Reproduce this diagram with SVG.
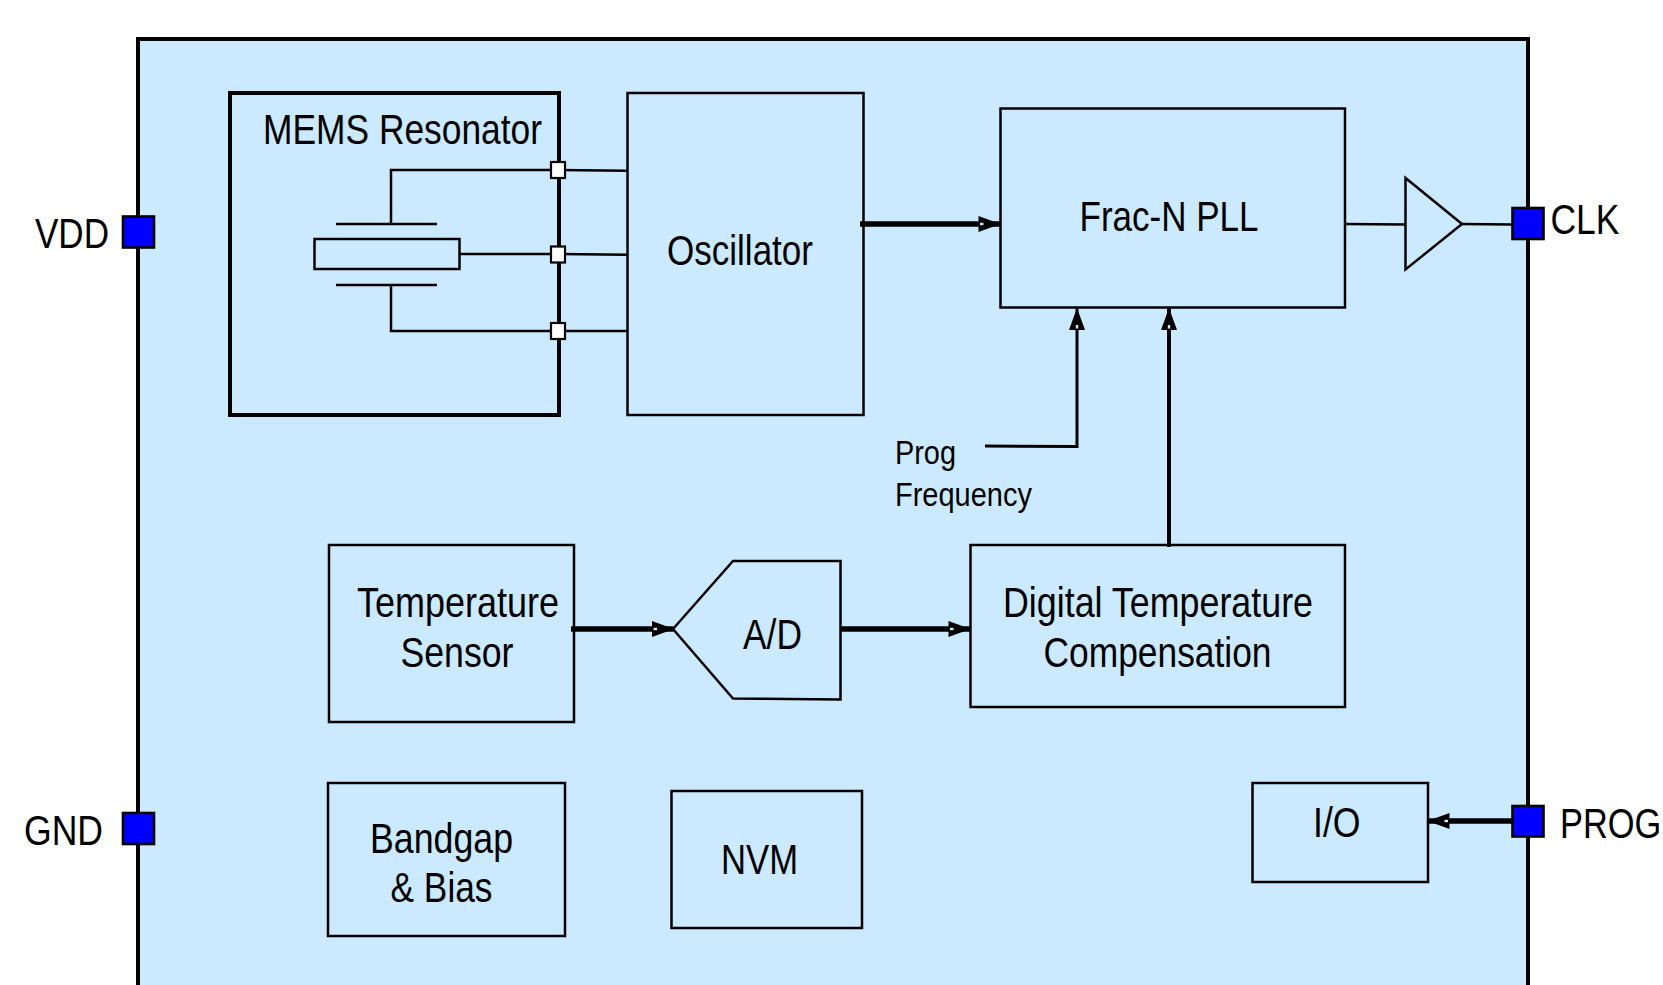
<svg xmlns="http://www.w3.org/2000/svg" width="1663" height="985" viewBox="0 0 1663 985">
<style>
.box{fill:#cbeaff;stroke:#000;stroke-width:2.5}
.w{fill:none;stroke:#000;stroke-width:2.5}
.pad{fill:#0000ff;stroke:#000;stroke-width:2.6}
.term{fill:#fff;stroke:#000;stroke-width:2.2}
.bh{fill:none;stroke:#000;stroke-width:5.500;marker-end:url(#ah)}
.bv{fill:none;stroke:#000;stroke-width:4;marker-end:url(#ah)}
text{font-family:"Liberation Sans",Arial,sans-serif;font-size:43px;fill:#000}
.s{font-size:34px}
</style>
<defs>
<marker id="ah" markerUnits="userSpaceOnUse" markerWidth="24" markerHeight="18" refX="21.500" refY="8" orient="auto" overflow="visible">
<path d="M0 0L22 8L0 16Z" fill="#000"/>
<path d="M1.500 6.800L5 6.800L5 9.200L1.500 9.200Z" fill="#cbeaff"/>
</marker>
</defs>
<rect width="1663" height="985" fill="#fff"/>
<g id="chip"><path d="M138 1000V39H1528V1000Z" fill="#cbeaff" stroke="#000" stroke-width="4"/></g>
<g id="mems"><rect x="230" y="93" width="329" height="322" fill="#cbeaff" stroke="#000" stroke-width="4"/>
<text x="263" y="144" textLength="279" lengthAdjust="spacingAndGlyphs">MEMS Resonator</text></g>
<g id="crystal"><rect class="box" x="314.500" y="239" width="145" height="30"/>
<path class="w" d="M336 224H437M336 285H437"/></g>
<g id="oscillator"><rect class="box" x="627.500" y="93" width="236" height="322"/>
<text x="667" y="265" textLength="146" lengthAdjust="spacingAndGlyphs">Oscillator</text></g>
<g id="pll"><rect class="box" x="1000.500" y="108.500" width="344.500" height="199"/>
<text x="1079.500" y="231" textLength="179" lengthAdjust="spacingAndGlyphs">Frac-N PLL</text></g>
<g id="buffer"><path class="box" d="M1405.500 178V269.500L1462 224Z"/></g>
<g id="temp"><rect class="box" x="329" y="545" width="245" height="177"/>
<text x="357" y="617" textLength="202" lengthAdjust="spacingAndGlyphs">Temperature</text>
<text x="400.500" y="667" textLength="113" lengthAdjust="spacingAndGlyphs">Sensor</text></g>
<g id="adc"><path class="box" d="M673 629L733 561H840.500V699.500L733 698.500Z"/>
<text x="743" y="649" textLength="59" lengthAdjust="spacingAndGlyphs">A/D</text></g>
<g id="dtc"><rect class="box" x="970.500" y="545" width="374.500" height="162"/>
<text x="1003" y="617" textLength="310" lengthAdjust="spacingAndGlyphs">Digital Temperature</text>
<text x="1043.500" y="667" textLength="228" lengthAdjust="spacingAndGlyphs">Compensation</text></g>
<g id="bandgap"><rect class="box" x="328" y="783" width="237" height="153"/>
<text x="370" y="853" textLength="143" lengthAdjust="spacingAndGlyphs">Bandgap</text>
<text x="390.500" y="902" textLength="102" lengthAdjust="spacingAndGlyphs">&amp; Bias</text></g>
<g id="nvm"><rect class="box" x="671.500" y="791" width="190.500" height="137"/>
<text x="721" y="874" textLength="77" lengthAdjust="spacingAndGlyphs">NVM</text></g>
<g id="io"><rect class="box" x="1252.500" y="783" width="175.500" height="99"/>
<text x="1313" y="837" textLength="47.500" lengthAdjust="spacingAndGlyphs">I/O</text></g>
<g id="prog-freq"><text class="s" x="895" y="464" textLength="61" lengthAdjust="spacingAndGlyphs">Prog</text>
<text class="s" x="895" y="506" textLength="137" lengthAdjust="spacingAndGlyphs">Frequency</text></g>
<g id="connectors">
<path class="w" d="M558 170H391V224M391 285V331H558M460 254H558M558 170L627 170.700M558 254L627 254.700M558 331H627M1345 224L1405 224.500M1462 224L1512 224.500"/>
<path class="bh" d="M860 224H1000"/>
<path class="bv" style="stroke-width:3" d="M985 446L1077 446.500V308.500"/>
<path class="bv" d="M1169 547V308.500"/>
<path class="bh" d="M571 629H673.500"/>
<path class="bh" d="M840 629H970"/>
<path class="bh" d="M1512 821H1428"/>
</g>
<g id="term1"><rect class="term" x="551" y="162" width="14" height="16"/></g>
<g id="term2"><rect class="term" x="551" y="246.500" width="14" height="16"/></g>
<g id="term3"><rect class="term" x="551" y="323" width="14" height="16"/></g>
<g id="vdd"><rect class="pad" x="123" y="216.500" width="31" height="31"/><text x="35" y="248" textLength="74" lengthAdjust="spacingAndGlyphs">VDD</text></g>
<g id="gnd"><rect class="pad" x="123" y="813" width="31" height="31"/><text x="24" y="845" textLength="79" lengthAdjust="spacingAndGlyphs">GND</text></g>
<g id="clk"><rect class="pad" x="1512.500" y="208" width="31" height="31"/><text x="1550.500" y="234" textLength="69" lengthAdjust="spacingAndGlyphs">CLK</text></g>
<g id="prog"><rect class="pad" x="1512.500" y="806" width="31" height="30.500"/><text transform="translate(1560 838) scale(.8 1)">PROG</text></g>
</svg>
